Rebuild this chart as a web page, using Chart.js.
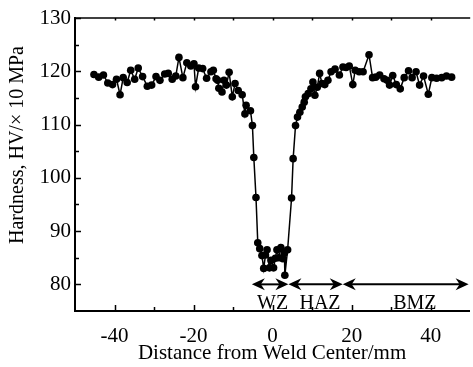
<!DOCTYPE html>
<html>
<head>
<meta charset="utf-8">
<script src="https://cdn.jsdelivr.net/npm/chart.js@4/dist/chart.umd.min.js"></script>
<style>
  html, body { margin: 0; padding: 0; background: #fff; }
  #wrap { width: 473px; height: 367px; }
</style>
</head>
<body>
<div id="wrap"><canvas id="hardness"></canvas></div>
<script>
// distance from weld center (mm) and hardness (HV x 10 MPa)
const distance = [-45.2, -44.0, -42.8, -41.7, -40.5, -39.5, -38.6, -37.8, -36.8, -35.9,
    -34.9, -34.0, -32.9, -31.7, -30.6, -29.5, -28.5, -27.3, -26.4, -25.4,
    -24.5, -23.7, -22.7, -21.7, -20.7, -19.9, -19.5, -18.7, -17.7, -16.7,
    -15.6, -15.0, -14.3, -13.9, -13.6, -12.8, -12.3, -11.7, -11.0, -10.2,
    -9.5, -8.7, -7.7, -7.0, -6.7, -5.6, -5.1, -4.75, -4.2, -3.75,
    -3.25, -2.7, -2.25, -1.8, -1.4, -0.8, -0.4, 0.25, 0.7, 1.1,
    1.6, 2.1, 2.6, 3.0, 3.1, 3.8, 4.8, 5.2, 5.8, 6.3,
    6.9, 7.5, 8.0, 8.3, 9.0, 9.7, 10.2, 10.7, 11.3, 11.9,
    12.5, 13.2, 14.0, 14.8, 15.8, 16.9, 17.8, 18.6, 19.4, 20.3,
    20.9, 21.9, 22.9, 24.4, 25.3, 26.1, 27.1, 28.2, 29.0, 29.6,
    30.4, 31.3, 32.3, 33.3, 34.4, 35.3, 36.3, 37.2, 38.2, 39.4,
    40.3, 41.5, 42.8, 44.0, 45.3];
const hardness = [119.4, 118.9, 119.3, 117.8, 117.5, 118.5, 115.6, 118.8, 117.9, 120.2,
    118.5, 120.6, 119.0, 117.2, 117.4, 119.0, 118.3, 119.5, 119.6, 118.5,
    119.1, 122.6, 118.8, 121.6, 121.0, 121.4, 117.1, 120.6, 120.5, 118.7,
    119.9, 120.2, 118.6, 118.3, 116.8, 116.1, 118.3, 117.4, 119.8, 115.2,
    117.7, 116.4, 115.6, 112.0, 113.6, 112.6, 109.8, 103.8, 96.3, 87.8,
    86.7, 85.4, 83.0, 85.5, 86.5, 83.1, 84.5, 83.1, 84.9, 86.5,
    85.0, 86.9, 84.8, 85.9, 81.7, 86.5, 96.2, 103.6, 109.8, 111.4,
    112.3, 113.3, 114.2, 115.2, 115.8, 116.7, 118.0, 115.5, 117.0, 119.6,
    117.7, 117.5, 118.3, 119.9, 120.4, 119.3, 120.8, 120.7, 121.0, 117.5,
    120.2, 119.9, 119.9, 123.1, 118.8, 118.9, 119.3, 118.6, 118.3, 117.4,
    119.2, 117.5, 116.7, 118.8, 120.1, 118.8, 119.9, 117.4, 119.1, 115.7,
    118.8, 118.7, 118.8, 119.1, 118.9];

const xTicks = [-40, -20, 0, 20, 40];
const yTicks = [80, 90, 100, 110, 120, 130];

// weld zones along the arrow line
const zoneEdges = [-5.25, 4, 17.75, 49.6];
const zoneNames = ['WZ', 'HAZ', 'BMZ'];
const zoneLabelAt = [0, 12, 36];
const zoneArrowY = 80;

const yTitle = 'Hardness, HV/× 10 MPa';
const serif = "'Liberation Serif', 'Times New Roman', serif";

function arrowHead(ctx, x, y, dir) {
    // filled "stealth" head, dir = -1 points left, 1 points right
    const len = 13, half = 6, notch = 4;
    ctx.beginPath();
    ctx.moveTo(x, y);
    ctx.lineTo(x - dir * len, y - half);
    ctx.lineTo(x - dir * (len - notch), y);
    ctx.lineTo(x - dir * len, y + half);
    ctx.closePath();
    ctx.fill();
}

const frame = {
    id: 'frame',
    afterDraw(chart) {
        const { ctx, chartArea: a, scales: { x, y } } = chart;
        ctx.save();
        ctx.strokeStyle = '#000';
        ctx.fillStyle = '#000';
        ctx.lineWidth = 1.5;

        // top border
        ctx.beginPath();
        ctx.moveTo(a.left, a.top);
        ctx.lineTo(a.right + 1, a.top);
        ctx.stroke();

        // inward ticks, bottom + top
        for (let v = -40; v <= 40; v += 10) {
            const px = Math.round(x.getPixelForValue(v)) + 0.5;
            const major = v % 20 === 0;
            ctx.beginPath();
            ctx.moveTo(px, a.bottom);
            ctx.lineTo(px, a.bottom - (major ? 6 : 4));
            ctx.moveTo(px, a.top);
            ctx.lineTo(px, a.top + 2.5);
            ctx.stroke();
        }
        // inward ticks, left
        for (let v = 80; v <= 130; v += 5) {
            const py = Math.round(y.getPixelForValue(v)) + 0.5;
            const major = v % 10 === 0;
            ctx.beginPath();
            ctx.moveTo(a.left, py);
            ctx.lineTo(a.left + (major ? 6 : 4), py);
            ctx.stroke();
        }

        // zone arrows
        const ay = y.getPixelForValue(zoneArrowY);
        ctx.lineWidth = 2;
        for (let i = 0; i < zoneNames.length; i++) {
            const x0 = x.getPixelForValue(zoneEdges[i]);
            const x1 = x.getPixelForValue(zoneEdges[i + 1]);
            ctx.beginPath();
            ctx.moveTo(x0 + 6, ay);
            ctx.lineTo(x1 - 6, ay);
            ctx.stroke();
            arrowHead(ctx, x0, ay, -1);
            arrowHead(ctx, x1, ay, 1);
        }
        ctx.font = '20px ' + serif;
        ctx.textAlign = 'center';
        ctx.textBaseline = 'alphabetic';
        zoneNames.forEach((name, i) => {
            ctx.fillText(name, x.getPixelForValue(zoneLabelAt[i]), ay + 25);
        });

        // y title, sits a bit above the plot's middle in the original
        ctx.translate(18, 145);
        ctx.rotate(-Math.PI / 2);
        ctx.font = '20px ' + serif;
        ctx.textBaseline = 'middle';
        ctx.fillText(yTitle, 0, 0);
        ctx.restore();
    }
};

new Chart(document.getElementById('hardness'), {
    type: 'scatter',
    data: {
        datasets: [{
            data: distance.map((d, i) => ({ x: d, y: hardness[i] })),
            showLine: true,
            borderColor: '#000',
            borderWidth: 1.5,
            backgroundColor: '#000',
            pointRadius: 3.8,
            pointBorderWidth: 0,
            pointHoverRadius: 3.8
        }]
    },
    options: {
        responsive: true,
        maintainAspectRatio: false,
        animation: false,
        layout: { padding: { top: 18, right: 0, left: 0, bottom: 0 } },
        plugins: { legend: { display: false }, tooltip: { enabled: false } },
        scales: {
            x: {
                type: 'linear',
                min: -50,
                max: 49.75,
                afterBuildTicks: s => { s.ticks = xTicks.map(v => ({ value: v })); },
                afterFit: s => { s.height = 56; },
                grid: { display: false, drawTicks: false },
                border: { display: true, color: '#000', width: 2 },
                ticks: {
                    color: '#000',
                    padding: 13,
                    maxRotation: 0,
                    font: { family: serif, size: 21 }
                },
                title: {
                    display: true,
                    text: 'Distance from Weld Center/mm',
                    color: '#000',
                    padding: { top: 0, bottom: 1 },
                    font: { family: serif, size: 21 }
                }
            },
            y: {
                min: 75,
                max: 130,
                afterBuildTicks: s => { s.ticks = yTicks.map(v => ({ value: v })); },
                afterFit: s => { s.width = 75; },
                grid: { display: false, drawTicks: false },
                border: { display: true, color: '#000', width: 2 },
                ticks: {
                    color: '#000',
                    padding: 4,
                    font: { family: serif, size: 21 }
                }
            }
        }
    },
    plugins: [frame]
});
</script>
</body>
</html>
